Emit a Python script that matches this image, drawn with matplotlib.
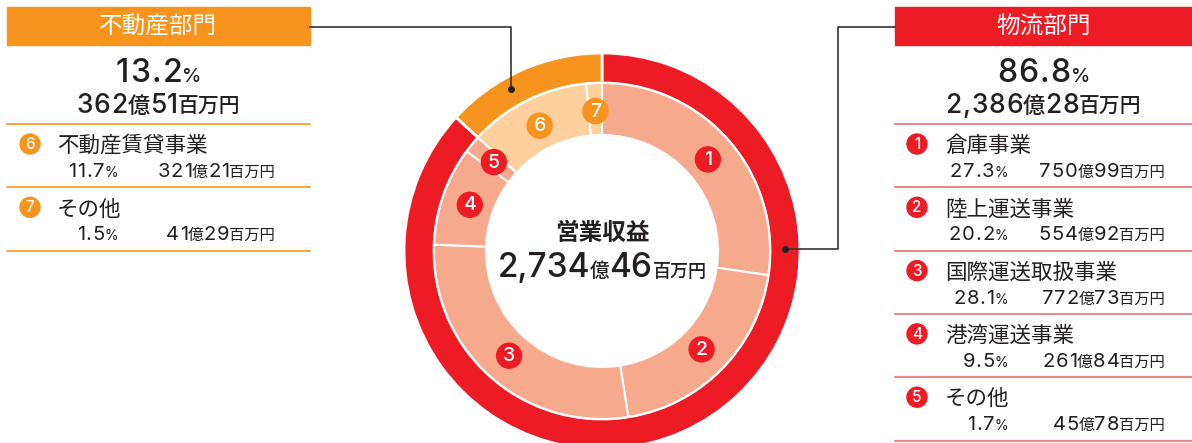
import matplotlib
matplotlib.use("Agg")
import math
import matplotlib.pyplot as plt
from matplotlib.patches import Rectangle, Circle

plt.rcParams['font.family'] = ['Noto Sans CJK JP', 'DejaVu Sans']
NUM_FONT = ['Inter', 'Noto Sans CJK JP']

# data
division_names = ["物流部門", "不動産部門"]
division_shares = [86.8, 13.2]
division_oku = ["2,386", "362"]
division_man = ["28", "51"]

segment_names = ["倉庫事業", "陸上運送事業", "国際運送取扱事業", "港湾運送事業", "その他",
                 "不動産賃貸事業", "その他"]
segment_shares = [27.3, 20.2, 28.1, 9.5, 1.7, 11.7, 1.5]
segment_oku = ["750", "554", "772", "261", "45", "321", "41"]
segment_man = ["99", "92", "73", "84", "78", "21", "29"]
segment_division = [0, 0, 0, 0, 0, 1, 1]

total_title = "営業収益"
total_oku = "2,734"
total_man = "46"

RED = "#ED1C24"
ORANGE = "#F7941D"
SALMON = "#F7A98E"
LIGHT = "#FDD09E"
RED_LINE = "#F07070"
TEXT = "#231F20"

W, H = 1192, 443
fig = plt.figure(figsize=(W / 100, H / 100), dpi=100)
ax = fig.add_axes([0, 0, 1, 1])

cx, cy = 602, H - 251

ax.pie(division_shares, radius=198, center=(cx, cy), startangle=90, counterclock=False,
       colors=[RED, ORANGE], frame=True,
       wedgeprops=dict(width=30, edgecolor="white", linewidth=2))
inner_colors = [SALMON if d == 0 else LIGHT for d in segment_division]
ax.pie(segment_shares, radius=168, center=(cx, cy), startangle=90, counterclock=False,
       colors=inner_colors, frame=True,
       wedgeprops=dict(width=52, edgecolor="white", linewidth=1.5))

ax.set_xlim(0, W)
ax.set_ylim(0, H)
ax.set_aspect("auto")
ax.axis("off")

renderer = fig.canvas.get_renderer()
tmp = ax.text(0, 0, "", va="baseline")


def y_(py):
    return H - py


def fam(s):
    return NUM_FONT if all(ord(c) < 0x3000 for c in s) else plt.rcParams['font.family']


def measure(s, size, wt):
    if not s:
        return 0
    tmp.set_text(s)
    tmp.set_fontsize(size)
    tmp.set_fontweight(wt)
    tmp.set_family(fam(s))
    return tmp.get_window_extent(renderer).width


def mixed(parts, x, py, ha="center", color=TEXT):
    # parts: (text, size, weight, tracking in px)
    layout = []
    total = 0
    for s, size, wt, tr in parts:
        if tr == 0:
            pieces = [(s, total)]
        else:
            pieces = [(c, total + measure(s[:i], size, wt) + i * tr) for i, c in enumerate(s)]
        layout.append((s, size, wt, pieces))
        total += measure(s, size, wt) + (len(s) - 1) * tr
    if ha == "center":
        start = x - total / 2
    elif ha == "right":
        start = x - total
    else:
        start = x
    for s, size, wt, pieces in layout:
        for txt, o in pieces:
            ax.text(start + o, y_(py), txt, fontsize=size, fontweight=wt, color=color,
                    family=fam(s), va="baseline", ha="left")


def badge(x, py, num, color, r, size):
    ax.add_patch(Circle((x, y_(py)), r, color=color, zorder=5))
    ax.text(x, y_(py) - 0.5, str(num), color="white", fontsize=size, ha="center", va="center",
            family=NUM_FONT, fontweight="medium", zorder=6)


# number badges on the ring
cum = 0
for i, s in enumerate(segment_shares):
    mid = cum + s / 2
    cum += s
    ang = math.radians(90 - 360 * mid / 100)
    bx = cx + 140 * math.cos(ang)
    by = cy + 140 * math.sin(ang)
    col = RED if segment_division[i] == 0 else ORANGE
    badge(bx, H - by, i + 1, col, 12.5, 14)

# centre text
mixed([(total_title, 17, "bold", 0)], cx, 240)
mixed([(total_oku, 24, "medium", 0), ("億", 14, "medium", 0), (total_man, 24, "medium", 0),
       ("百万円", 13, "medium", 0)], cx, 277)

# leader lines
ax.plot([310, 511, 511], [y_(27), y_(27), y_(89)], color="#333333", lw=1.2, zorder=7)
ax.plot([511], [y_(89)], "o", color="#222222", ms=4, zorder=7)
ax.plot([895, 838, 838, 785], [y_(27), y_(27), y_(249), y_(249)], color="#333333", lw=1.2, zorder=7)
ax.plot([785], [y_(249)], "o", color="#222222", ms=4, zorder=7)

# panels: (division index, left, right, colour, line colour)
panels = [(1, 7, 310, ORANGE, ORANGE), (0, 895, 1192, RED, RED_LINE)]
for d, x0, x1, col, lcol in panels:
    xc = (x0 + x1) / 2
    ax.add_patch(Rectangle((x0, y_(45)), x1 - x0, 38, color=col))
    ax.text(xc, y_(27), division_names[d], color="white", fontsize=17, ha="center", va="center")
    mixed([(f"{division_shares[d]:.1f}", 23, "medium", 1.2), ("%", 14, "medium", 0)], xc, 82)
    mixed([(division_oku[d], 19, "medium", 0.8), ("億", 16, "medium", 0),
           (division_man[d], 19, "medium", 0.8), ("百万円", 15, "medium", 0)], xc, 113)
    ax.plot([x0, x1], [y_(124), y_(124)], color=lcol, lw=1.2)
    idx = [i for i in range(len(segment_names)) if segment_division[i] == d]
    pct_right = 118 if d == 1 else 1008
    yen_right = 275 if d == 1 else 1165
    bx = 30 if d == 1 else 917
    tx = 57 if d == 1 else 945
    for k, i in enumerate(idx):
        top = 124 + k * 63.3
        badge(bx, top + 20, i + 1, col, 10, 11)
        ax.text(tx, y_(top + 28), segment_names[i], fontsize=15.5, color=TEXT, va="baseline")
        mixed([(f"{segment_shares[i]:.1f}", 14.5, "normal", 0.8), ("%", 10, "normal", 0)],
              pct_right, top + 53, ha="right")
        mixed([(segment_oku[i], 14.5, "normal", 0.8), ("億", 11.5, "normal", 0),
               (segment_man[i], 14.5, "normal", 0.8), ("百万円", 11, "normal", 0)],
              yen_right, top + 53, ha="right")
        ax.plot([x0, x1], [y_(top + 63.3), y_(top + 63.3)], color=lcol, lw=1.2)

tmp.remove()
fig.savefig("out.png", dpi=100)
